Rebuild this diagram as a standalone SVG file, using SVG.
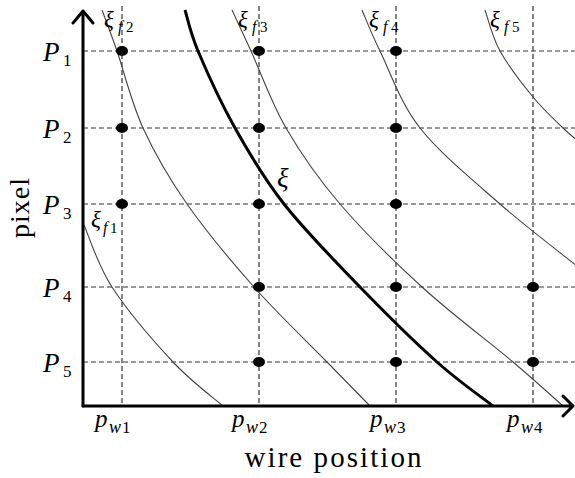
<svg xmlns="http://www.w3.org/2000/svg" width="575" height="478" viewBox="0 0 575 478">
<style>
.grid{stroke:#333;stroke-width:1.2;stroke-dasharray:5 3;fill:none}
.thin{stroke:#444;stroke-width:1.1;fill:none}
.thick{stroke:#000;stroke-width:3;fill:none}
.axis{stroke:#000;stroke-width:3;fill:none;stroke-linecap:round;stroke-linejoin:round}
.dot{fill:#000}
text{font-family:"Liberation Serif","Times New Roman","DejaVu Serif",serif;fill:#000}
.m{font-style:italic}
.up{font-style:normal}
</style>
<rect width="575" height="478" fill="#fff"/>
<g id="grid">
<line class="grid" x1="122" y1="6" x2="122" y2="406"/>
<line class="grid" x1="259" y1="6" x2="259" y2="406"/>
<line class="grid" x1="396" y1="6" x2="396" y2="406"/>
<line class="grid" x1="533" y1="6" x2="533" y2="406"/>
<line class="grid" x1="83" y1="51" x2="575" y2="51"/>
<line class="grid" x1="83" y1="128" x2="575" y2="128"/>
<line class="grid" x1="83" y1="204" x2="575" y2="204"/>
<line class="grid" x1="83" y1="287" x2="575" y2="287"/>
<line class="grid" x1="83" y1="362" x2="575" y2="362"/>
</g>
<g id="curves">
<path id="xi-f1" class="thin" d="M84,225 C88.7,235.3 97.2,264.2 112,287 C126.8,309.8 154.5,342.2 173,362 C191.5,381.8 214.7,398.7 223,406"/>
<path id="xi-f2" class="thin" d="M102,10 C104.5,16.8 110.2,31.3 117,51 C123.8,70.7 131.3,102.5 143,128 C154.7,153.5 168.5,177.5 187,204 C205.5,230.5 230.7,260.7 254,287 C277.3,313.3 307.7,342.2 327,362 C346.3,381.8 362.8,398.7 370,406"/>
<path id="xi-f3" class="thin" d="M232,10 C235.2,16.8 242,31.3 251,51 C260,70.7 271.2,102.5 286,128 C300.8,153.5 317.3,177.5 340,204 C362.7,230.5 393.2,260.7 422,287 C450.8,313.3 489.5,342.2 513,362 C536.5,381.8 554.7,398.7 563,406"/>
<path id="xi-f4" class="thin" d="M362,10 C365,16.8 370.3,31.3 380,51 C389.7,70.7 400,102.5 420,128 C440,153.5 473.8,181 500,204 C526.2,227 564.2,255.7 577,266"/>
<path id="xi-f5" class="thin" d="M485,10 C487.5,16.8 492,36.5 500,51 C508,65.5 522.5,84.2 533,97 C543.5,109.8 555.5,120.7 563,128 C570.5,135.3 575.5,138.8 578,141"/>
<path id="xi" class="thick" d="M185,10 C187.2,16.8 189.7,31.3 198,51 C206.3,70.7 220.7,102.5 235,128 C249.3,153.5 263.2,177.5 284,204 C304.8,230.5 334.5,260.7 360,287 C385.5,313.3 414.8,342.2 437,362 C459.2,381.8 483.7,398.7 493,406"/>
</g>
<g id="dots">
<ellipse class="dot" cx="122" cy="51" rx="6" ry="5"/>
<ellipse class="dot" cx="259" cy="51" rx="6" ry="5"/>
<ellipse class="dot" cx="396" cy="51" rx="6" ry="5"/>
<ellipse class="dot" cx="122" cy="128" rx="6" ry="5"/>
<ellipse class="dot" cx="259" cy="128" rx="6" ry="5"/>
<ellipse class="dot" cx="396" cy="128" rx="6" ry="5"/>
<ellipse class="dot" cx="122" cy="204" rx="6" ry="5"/>
<ellipse class="dot" cx="259" cy="204" rx="6" ry="5"/>
<ellipse class="dot" cx="396" cy="204" rx="6" ry="5"/>
<ellipse class="dot" cx="259" cy="287" rx="6" ry="5"/>
<ellipse class="dot" cx="396" cy="287" rx="6" ry="5"/>
<ellipse class="dot" cx="533" cy="287" rx="6" ry="5"/>
<ellipse class="dot" cx="259" cy="362" rx="6" ry="5"/>
<ellipse class="dot" cx="396" cy="362" rx="6" ry="5"/>
<ellipse class="dot" cx="533" cy="362" rx="6" ry="5"/>
</g>
<g id="axes">
<path class="axis" d="M83,406 L83,11 M73,23 L83,11 L93,23"/>
<path class="axis" d="M83,406 L573,406 M563,396 L573,406 L563,416"/>
</g>
<g id="y-labels" font-size="27">
<text class="m" x="43" y="61">P</text><text class="up" x="63" y="66" font-size="17">1</text>
<text class="m" x="43" y="138">P</text><text class="up" x="63" y="143" font-size="17">2</text>
<text class="m" x="43" y="214">P</text><text class="up" x="63" y="219" font-size="17">3</text>
<text class="m" x="43" y="297">P</text><text class="up" x="63" y="302" font-size="17">4</text>
<text class="m" x="43" y="372">P</text><text class="up" x="63" y="377" font-size="17">5</text>
</g>
<g id="x-labels" font-size="25">
<text class="m" x="95" y="427">p</text><text class="m" x="109" y="433" font-size="18">w</text><text class="up" x="122" y="433" font-size="17">1</text>
<text class="m" x="232" y="427">p</text><text class="m" x="246" y="433" font-size="18">w</text><text class="up" x="259" y="433" font-size="17">2</text>
<text class="m" x="370" y="427">p</text><text class="m" x="384" y="433" font-size="18">w</text><text class="up" x="397" y="433" font-size="17">3</text>
<text class="m" x="507" y="427">p</text><text class="m" x="521" y="433" font-size="18">w</text><text class="up" x="534" y="433" font-size="17">4</text>
</g>
<g id="curve-labels" font-size="23">
<text class="m" x="91" y="227">ξ</text><text class="m" x="103" y="233" font-size="16">f</text><text class="up" x="110" y="233" font-size="15">1</text>
<text class="m" x="104" y="27">ξ</text><text class="m" x="118" y="32" font-size="16">f</text><text class="up" x="126" y="32" font-size="15">2</text>
<text class="m" x="238" y="27">ξ</text><text class="m" x="252" y="32" font-size="16">f</text><text class="up" x="260" y="32" font-size="15">3</text>
<text class="m" x="369" y="27">ξ</text><text class="m" x="383" y="32" font-size="16">f</text><text class="up" x="391" y="32" font-size="15">4</text>
<text class="m" x="490" y="27">ξ</text><text class="m" x="504" y="32" font-size="16">f</text><text class="up" x="512" y="32" font-size="15">5</text>
<text class="m" x="277" y="187" font-size="27">ξ</text>
</g>
<g id="axis-titles">
<text x="333" y="467" font-size="29" text-anchor="middle" textLength="177" lengthAdjust="spacing">wire position</text>
<text transform="translate(29,208) rotate(-90)" font-size="28" text-anchor="middle" textLength="60" lengthAdjust="spacing">pixel</text>
</g>
</svg>
